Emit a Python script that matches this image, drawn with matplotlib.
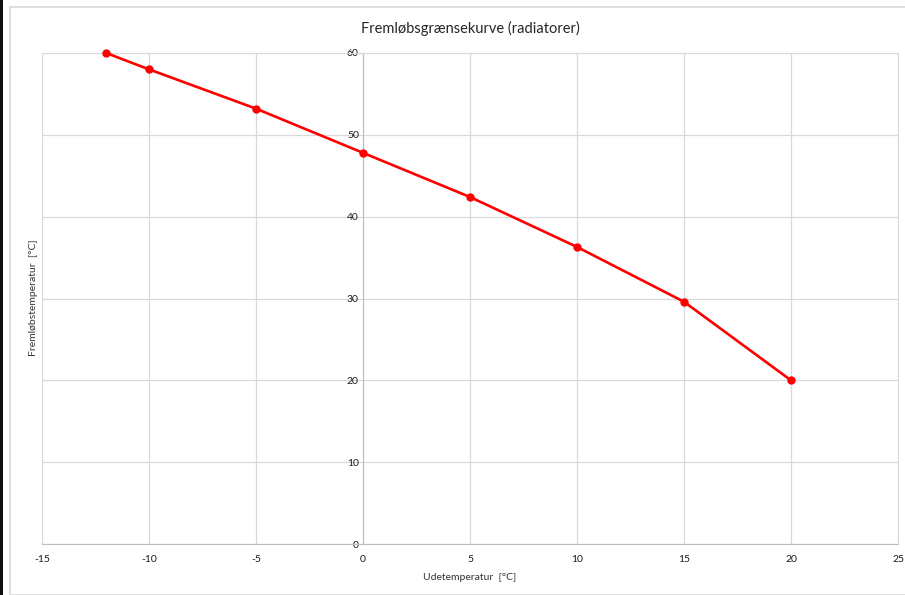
"""Fremløbsgrænsekurve for radiatorer, i stil med et Excel-diagram."""

import matplotlib.pyplot as plt
from matplotlib.patches import Rectangle

# Data
ude_temp = [-12, -10, -5, 0, 5, 10, 15, 20]
frem_temp = [60, 58, 53.2, 47.8, 42.4, 36.3, 29.6, 20]

x_ticks = [-15, -10, -5, 0, 5, 10, 15, 20, 25]
y_ticks = [0, 10, 20, 30, 40, 50, 60]

W, H = 905, 595
plt.rcParams["font.family"] = ["Lato", "DejaVu Sans"]
plt.rcParams["axes.unicode_minus"] = False

fig = plt.figure(figsize=(W / 100, H / 100), dpi=100)

# Diagramramme og mørk kant til venstre (bag akserne)
fig.patches.append(Rectangle((10 / W, 0), 1, 1 - 7 / H, transform=fig.transFigure,
                             facecolor="white", edgecolor="#d9d9d9", lw=1.2,
                             zorder=-5))
fig.patches.append(Rectangle((0, 0), 3 / W, 1, transform=fig.transFigure,
                             facecolor="#111111", edgecolor="none", zorder=-5))

ax = fig.add_axes([42 / W, 1 - 544 / H, (898 - 42) / W, (544 - 53) / H])
ax.plot(ude_temp, frem_temp, color="#ff0000", lw=1.9, marker="o",
        markersize=5, zorder=3, clip_on=False)

ax.set_xlim(-15, 25)
ax.set_ylim(0, 60)
ax.set_xticks(x_ticks)
ax.set_yticks(y_ticks)
ax.grid(True, color="#d9d9d9", lw=0.9)
ax.set_axisbelow(True)

ax.spines["left"].set_position(("data", 0))
ax.spines["left"].set_color("#bfbfbf")
ax.spines["bottom"].set_color("#bfbfbf")
ax.spines["top"].set_color("#d9d9d9")
ax.spines["right"].set_color("#d9d9d9")
ax.tick_params(axis="both", length=0, labelsize=7.5, colors="#1a1a1a")
ax.tick_params(axis="x", pad=8)
ax.tick_params(axis="y", pad=3)

fig.text(470 / W, 1 - 28 / H, "Fremløbsgrænsekurve (radiatorer)",
         ha="center", va="center", fontsize=10.5, color="#262626")
fig.text(470 / W, 1 - 578 / H, "Udetemperatur  [°C]",
         ha="center", va="center", fontsize=7.5, color="#333333")
fig.text(34 / W, 1 - 298 / H, "Fremløbstemperatur  [°C]", rotation=90,
         ha="center", va="center", fontsize=7.5, color="#333333")

fig.savefig("out.png", dpi=100)
